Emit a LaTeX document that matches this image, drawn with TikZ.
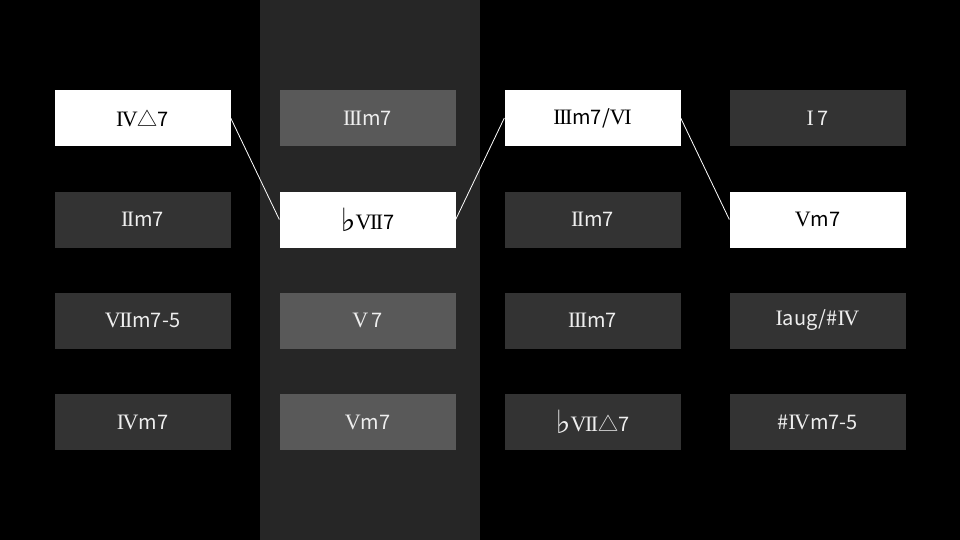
\documentclass[tikz,border=0pt]{standalone}
\usepackage{fontspec}
\setmainfont{Noto Sans CJK JP}
\newfontfamily\rnfont{Liberation Serif}
\newfontfamily\symfont{DejaVu Serif}
\newcommand{\rn}[1]{{\rnfont\fontsize{22}{24}\selectfont #1}}
\newcommand{\flatsym}{{\symfont\fontsize{32}{24}\selectfont\raisebox{-2pt}{♭}}}
\begin{document}
\begin{tikzpicture}[x=1pt,y=-1pt,
  cell/.style={minimum width=176pt,minimum height=56pt,inner sep=0pt,font=\fontsize{20}{24}\selectfont},
  dark/.style={cell,fill=boxdark,text=textlight},
  mid/.style={cell,fill=boxmid,text=textlight},
  hi/.style={cell,fill=white,text=black},
  link/.style={draw=white,line width=0.8pt}]
\definecolor{boxdark}{HTML}{333333}
\definecolor{boxmid}{HTML}{595959}
\definecolor{band}{HTML}{262626}
\definecolor{textlight}{HTML}{EEEEEE}
\fill[black] (0,0) rectangle (960,540);
\fill[band] (260,0) rectangle (480,540);
\useasboundingbox (0,0) rectangle (960,540);
% column 1
\node[hi]   (a1) at (142.5,118) {\rn{I\kern-1.5ptV}△7};
\node[dark] (a2) at (142.5,219.5) {\rn{I\kern-1.5ptI}m7};
\node[dark] (a3) at (142.5,320.5) {\rn{V\kern-1.5ptI\kern-1.5ptI}m7-5};
\node[dark] (a4) at (142.5,422) {\rn{I\kern-1.5ptV}m7};
% column 2
\node[mid]  (b1) at (367.5,118) {\rn{I\kern-1.5ptI\kern-1.5ptI}m7};
\node[hi]   (b2) at (367.5,219.5) {\flatsym\rn{V\kern-1.5ptI\kern-1.5ptI}7};
\node[mid]  (b3) at (367.5,320.5) {\rn{V}\,7};
\node[mid]  (b4) at (367.5,422) {\rn{V}m7};
% column 3
\node[hi]   (c1) at (592.5,118) {\rn{I\kern-1.5ptI\kern-1.5ptI}m7/\rn{V\kern-1.5ptI}};
\node[dark] (c2) at (592.5,219.5) {\rn{I\kern-1.5ptI}m7};
\node[dark] (c3) at (592.5,320.5) {\rn{I\kern-1.5ptI\kern-1.5ptI}m7};
\node[dark] (c4) at (592.5,422) {\flatsym\rn{V\kern-1.5ptI\kern-1.5ptI}△7};
% column 4
\node[dark] (d1) at (817.5,118) {\rn{I}\,7};
\node[hi]   (d2) at (817.5,219.5) {\rn{V}m7};
\node[dark] (d3) at (817.5,320.5) {\rn{I}aug/\#\rn{I\kern-1.5ptV}};
\node[dark] (d4) at (817.5,422) {\#\rn{I\kern-1.5ptV}m7-5};
% links
\draw[link] (a1.east) -- (b2.west);
\draw[link] (b2.east) -- (c1.west);
\draw[link] (c1.east) -- (d2.west);
\end{tikzpicture}
\end{document}
